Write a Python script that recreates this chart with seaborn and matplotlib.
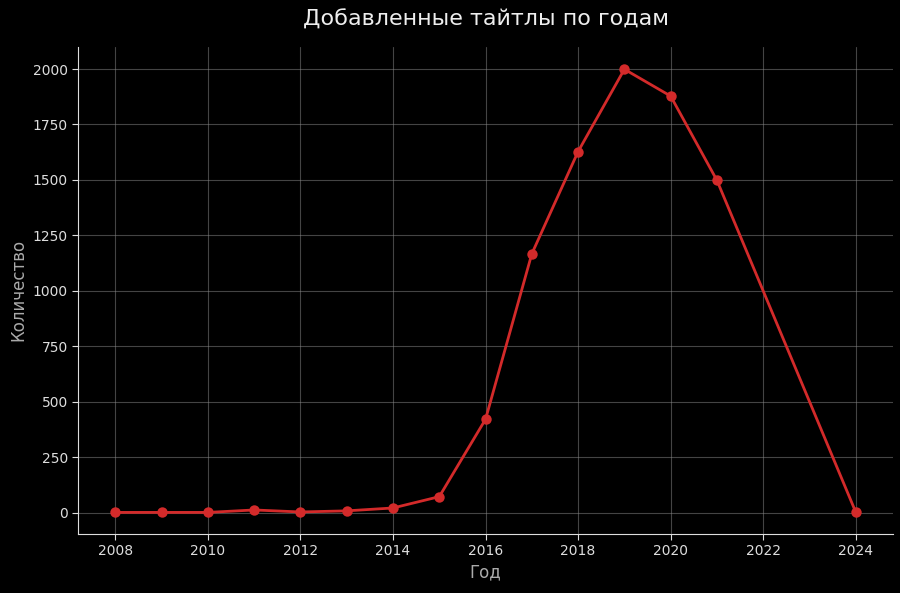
import pandas as pd
import seaborn as sns
import matplotlib.pyplot as plt

# data
years = [2008, 2009, 2010, 2011, 2012, 2013, 2014, 2015, 2016,
         2017, 2018, 2019, 2020, 2021, 2024]
counts = [1, 1, 1, 12, 3, 8, 21, 72, 421,
          1167, 1628, 1999, 1878, 1498, 2]

df = pd.DataFrame({'year': years, 'count': counts})

sns.set_style('dark')
plt.rcParams.update({
    'figure.facecolor': 'black',
    'axes.facecolor': 'black',
    'axes.edgecolor': '#dddddd',
    'text.color': '#dddddd',
    'xtick.color': '#dddddd',
    'ytick.color': '#dddddd',
    'axes.labelcolor': '#aaaaaa',
})
plt.rcParams['font.family'] = ['DejaVu Sans']

fig, ax = plt.subplots(figsize=(9, 5.93), dpi=100)
sns.lineplot(data=df, x='year', y='count', ax=ax, color='#d32a2a',
             linewidth=2, marker='o', markersize=7.5, markeredgewidth=0)

ax.set_title('Добавленные тайтлы по годам', fontsize=16, color='#eeeeee', pad=15)
ax.set_xlabel('Год', fontsize=12)
ax.set_ylabel('Количество', fontsize=12)
ax.set_xticks(range(2008, 2025, 2))
ax.set_ylim(-95, 2100)
ax.tick_params(axis='both', which='both', bottom=True, left=True,
               length=4, color='#dddddd', labelsize=10)
ax.grid(True, color='#888888', alpha=0.5, linewidth=0.8)
sns.despine(ax=ax)
for s in ['left', 'bottom']:
    ax.spines[s].set_color('#dddddd')

plt.subplots_adjust(left=0.087, right=0.992, top=0.921, bottom=0.1)
plt.savefig('out.png', facecolor='black')
